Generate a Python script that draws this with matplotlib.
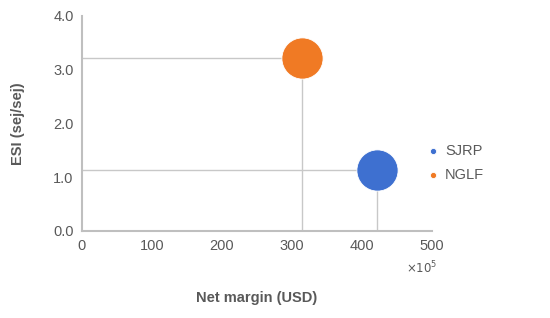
import matplotlib.pyplot as plt

# --- data ---------------------------------------------------------------
systems = ["SJRP", "NGLF"]
net_margin = [422, 314]          # x10^5 USD
esi = [1.13, 3.21]               # sej/sej
bubble_size = [880, 880]
colors = ["#3e70d0", "#f07a24"]
# ------------------------------------------------------------------------

plt.rcParams["font.family"] = ["Liberation Sans", "DejaVu Sans"]
TEXT = "#595959"
GRID = "#c8c8c8"

fig = plt.figure(figsize=(5.5, 3.18), dpi=100)
ax = fig.add_axes([0.149, 0.274, 0.636, 0.676])

for name, x, y, s, c in zip(systems, net_margin, esi, bubble_size, colors):
    # drop lines from the point to both axes
    ax.plot([0, x, x], [y, y, 0], color=GRID, lw=1.0, zorder=1)
    ax.scatter(x, y, s=s, color=c, zorder=3, label=name,
               edgecolors="white", linewidths=0.6)

ax.set_xlim(0, 500)
ax.set_ylim(0, 4.0)
ax.set_xticks(range(0, 501, 100))
ax.set_yticks([0, 1, 2, 3, 4])
ax.set_yticklabels([f"{v:.1f}" for v in [0, 1, 2, 3, 4]])
ax.tick_params(length=0, labelsize=10.5, labelcolor=TEXT, pad=6)

for side in ["top", "right"]:
    ax.spines[side].set_visible(False)
for side in ["left", "bottom"]:
    ax.spines[side].set_color("#bfbfbf")
    ax.spines[side].set_linewidth(1.5)

ax.set_xlabel("Net margin (USD)", fontsize=10.5, fontweight="bold", color=TEXT, labelpad=27)
ax.set_ylabel("ESI (sej/sej)", fontsize=10.5, fontweight="bold", color=TEXT, labelpad=20)
ax.text(0.925, -0.175, r"$\times10^5$", transform=ax.transAxes, fontsize=8.5,
        color=TEXT, ha="left", va="center")

leg = ax.legend(loc="center left", bbox_to_anchor=(0.925, 0.315), frameon=False,
                fontsize=10.5, markerscale=0.15, handletextpad=-0.2, labelspacing=0.7,
                labelcolor=TEXT)

fig.savefig("out.png", dpi=100)
